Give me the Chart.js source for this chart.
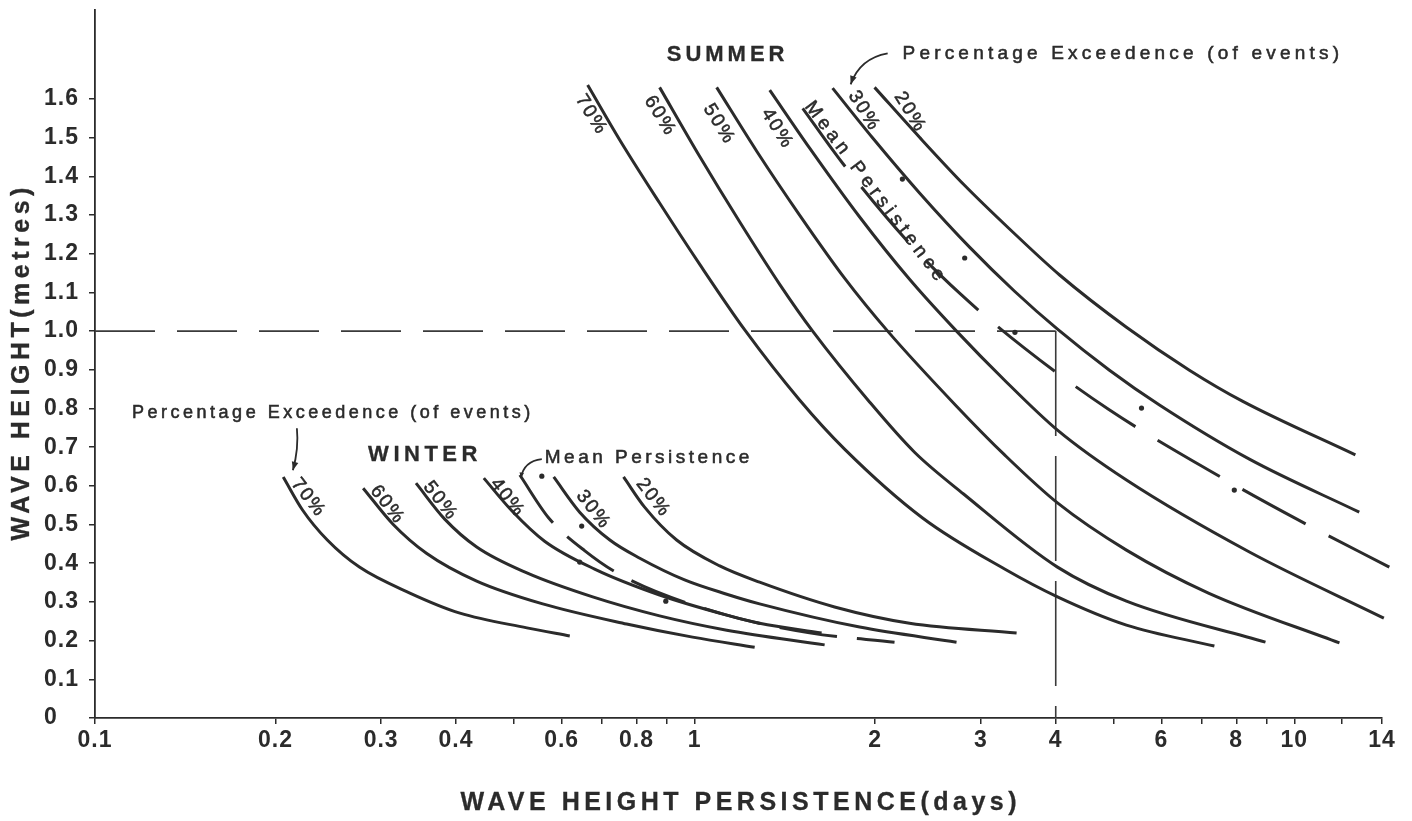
<!DOCTYPE html>
<html>
<head>
<meta charset="utf-8">
<title>Wave height persistence</title>
<script src="https://cdn.jsdelivr.net/npm/chart.js@4.4.1/dist/chart.umd.min.js"></script>
<style>
  html, body { margin: 0; padding: 0; background: #ffffff; }
  canvas { display: block; }
</style>
</head>
<body>
<canvas id="chart" width="1412" height="821"></canvas>
<script>
// ---------- axis ticks ----------
const xTickValues = [0.1, 0.2, 0.3, 0.4, 0.5, 0.6, 0.7, 0.8, 0.9, 1, 2, 3, 4, 5, 6, 7, 8, 9, 10, 12, 14];
const xTickLabels = [0.1, 0.2, 0.3, 0.4, 0.6, 0.8, 1, 2, 3, 4, 6, 8, 10, 14];
const yTickValues = [0, 0.1, 0.2, 0.3, 0.4, 0.5, 0.6, 0.7, 0.8, 0.9, 1.0, 1.1, 1.2, 1.3, 1.4, 1.5, 1.6];

// ---------- SUMMER: persistence (days) against wave height (m) ----------
const summer70Days   = [0.663, 0.750, 0.874, 1.019, 1.212, 1.496, 1.778, 2.399, 3.287, 4.027, 5.248, 7.356];
const summer70Height = [1.636, 1.494, 1.331, 1.173, 1.003, 0.822, 0.695, 0.517, 0.385, 0.313, 0.240, 0.186];
const summer60Days   = [0.874, 1.019, 1.189, 1.386, 1.573, 1.957, 2.326, 2.808, 4.027, 5.248, 8.950];
const summer60Height = [1.630, 1.452, 1.282, 1.121, 1.000, 0.817, 0.687, 0.579, 0.390, 0.302, 0.196];
const summer50Days   = [1.088, 1.269, 1.496, 1.778, 2.098, 2.733, 3.287, 4.027, 5.248, 7.190, 11.89];
const summer50Height = [1.630, 1.465, 1.300, 1.137, 1.000, 0.806, 0.680, 0.556, 0.434, 0.323, 0.194];
const summer40Days   = [1.334, 1.555, 1.884, 2.282, 2.733, 3.287, 4.027, 5.248, 8.414, 14.1];
const summer40Height = [1.623, 1.473, 1.295, 1.134, 1.000, 0.873, 0.744, 0.615, 0.429, 0.258];
const summer30Days   = [1.698, 1.981, 2.371, 2.873, 3.415, 4.027, 4.917, 5.957, 8.414, 12.83];
const summer30Height = [1.628, 1.499, 1.357, 1.217, 1.103, 1.005, 0.899, 0.809, 0.669, 0.532];
const summer20Days   = [1.995, 2.371, 2.818, 3.350, 4.060, 5.248, 6.683, 8.190, 12.64];
const summer20Height = [1.630, 1.501, 1.377, 1.264, 1.145, 1.010, 0.899, 0.819, 0.680];
const summerMeanDays   = [1.514, 1.765, 2.256, 2.765, 3.548, 4.898, 7.190, 10.15, 14.4];
const summerMeanHeight = [1.576, 1.434, 1.235, 1.098, 0.956, 0.798, 0.641, 0.512, 0.390];
const summerPointDays   = [2.22, 2.82, 3.42, 5.56, 7.94, 14.4];
const summerPointHeight = [1.393, 1.189, 0.997, 0.801, 0.589, 0.390];

// ---------- WINTER ----------
const winter70Days   = [0.206, 0.222, 0.244, 0.276, 0.335, 0.406, 0.525, 0.619];
const winter70Height = [0.623, 0.537, 0.460, 0.390, 0.323, 0.271, 0.233, 0.212];
const winter60Days   = [0.280, 0.314, 0.357, 0.433, 0.558, 0.770, 0.992, 1.259];
const winter60Height = [0.594, 0.501, 0.426, 0.354, 0.295, 0.243, 0.209, 0.183];
const winter50Days   = [0.343, 0.383, 0.433, 0.525, 0.676, 0.874, 1.131, 1.647];
const winter50Height = [0.607, 0.514, 0.442, 0.375, 0.313, 0.264, 0.227, 0.189];
const winter40Days   = [0.445, 0.496, 0.562, 0.681, 0.874, 1.131, 1.283, 1.628];
const winter40Height = [0.620, 0.535, 0.457, 0.385, 0.318, 0.266, 0.245, 0.220];
const winter30Days   = [0.582, 0.643, 0.722, 0.810, 0.962, 1.131, 1.283, 1.884, 2.733];
const winter30Height = [0.623, 0.532, 0.460, 0.413, 0.357, 0.320, 0.295, 0.235, 0.196];
const winter20Days   = [0.761, 0.825, 0.933, 1.101, 1.283, 1.711, 2.282, 3.442];
const winter20Height = [0.623, 0.545, 0.460, 0.393, 0.351, 0.287, 0.245, 0.220];
const winterMeanDays   = [0.511, 0.571, 0.656, 0.764, 1.101, 1.554, 2.154];
const winterMeanHeight = [0.628, 0.517, 0.432, 0.364, 0.271, 0.220, 0.196];
const winterPointDays   = [0.556, 0.648, 0.643, 0.895];
const winterPointHeight = [0.625, 0.496, 0.403, 0.302];

// ---------- reference: 1.0 m wave height, 4 days ----------
const refHeight = 1.0;
const refDays = 4;

// ---------- styling ----------
const INK = '#2b2b2b';
const FAMILY = '"Liberation Sans", Arial, Helvetica, sans-serif';

const zip = (xs, ys) => xs.map((x, i) => ({ x: x, y: ys[i] }));

function curve(xs, ys, dash) {
  return {
    data: zip(xs, ys),
    borderColor: INK,
    borderWidth: 3,
    borderDash: dash || [],
    pointRadius: 0,
    cubicInterpolationMode: 'monotone',
    fill: false,
    clip: false
  };
}
function dots(xs, ys) {
  return {
    data: zip(xs, ys),
    showLine: false,
    pointRadius: 2.6,
    pointBackgroundColor: INK,
    pointBorderWidth: 0,
    clip: false
  };
}
function guide(points, dash) {
  return {
    data: points,
    borderColor: '#3a3a3a',
    borderWidth: 1.6,
    borderDash: dash,
    pointRadius: 0,
    tension: 0,
    fill: false
  };
}

const datasets = [
  curve(summer70Days, summer70Height),
  curve(summer60Days, summer60Height),
  curve(summer50Days, summer50Height),
  curve(summer40Days, summer40Height),
  curve(summer30Days, summer30Height),
  curve(summer20Days, summer20Height),
  curve(summerMeanDays, summerMeanHeight, [72, 26]),
  dots(summerPointDays, summerPointHeight),
  curve(winter70Days, winter70Height),
  curve(winter60Days, winter60Height),
  curve(winter50Days, winter50Height),
  curve(winter40Days, winter40Height),
  curve(winter30Days, winter30Height),
  curve(winter20Days, winter20Height),
  curve(winterMeanDays, winterMeanHeight, [58, 20]),
  dots(winterPointDays, winterPointHeight),
  guide([{ x: 0.1, y: refHeight }, { x: refDays, y: refHeight }], [60, 22]),
  guide([{ x: refDays, y: refHeight }, { x: refDays, y: 0 }], [105, 20])
];

// ---------- text placed on the plot (anchored in data units) ----------
const notes = [
  { text: 'SUMMER', at: [1.126, 1.713], font: 'bold 22px', ls: 4, align: 'center', rot: 0 },
  { text: 'Percentage Exceedence (of events)', at: [2.221, 1.718], font: '19px', ls: 4.2, align: 'left', rot: 0 },
  { text: 'WINTER', at: [0.352, 0.680], font: 'bold 22px', ls: 4.5, align: 'center', rot: 0 },
  { text: 'Percentage Exceedence (of events)', at: [0.1153, 0.788], font: '18px', ls: 3.5, align: 'left', rot: 0 },
  { text: 'Mean Persistence', at: [0.5623, 0.672], font: '19px', ls: 3.5, align: 'left', rot: 0 },
  { text: 'Mean Persistence', at: [1.995, 1.362], font: '19px', ls: 4.5, align: 'center', rot: 53 },
  { text: '70%', at: [0.671, 1.561], font: '19px', ls: 2, align: 'center', rot: 58 },
  { text: '60%', at: [0.874, 1.558], font: '19px', ls: 2, align: 'center', rot: 58 },
  { text: '50%', at: [1.096, 1.537], font: '19px', ls: 2, align: 'center', rot: 58 },
  { text: '40%', at: [1.370, 1.525], font: '19px', ls: 2, align: 'center', rot: 58 },
  { text: '30%', at: [1.913, 1.571], font: '19px', ls: 2, align: 'center', rot: 58 },
  { text: '20%', at: [2.282, 1.568], font: '19px', ls: 2, align: 'center', rot: 58 },
  { text: '70%', at: [0.2265, 0.571], font: '19px', ls: 2, align: 'center', rot: 52 },
  { text: '60%', at: [0.3066, 0.553], font: '19px', ls: 2, align: 'center', rot: 52 },
  { text: '50%', at: [0.3758, 0.563], font: '19px', ls: 2, align: 'center', rot: 52 },
  { text: '40%', at: [0.4860, 0.571], font: '19px', ls: 2, align: 'center', rot: 52 },
  { text: '30%', at: [0.6761, 0.540], font: '19px', ls: 2, align: 'center', rot: 52 },
  { text: '20%', at: [0.8511, 0.571], font: '19px', ls: 2, align: 'center', rot: 52 }
];
// pointer arrows: start in data units, bend and tip as pixel offsets from the start
const pointers = [
  { from: [2.098, 1.718], bend: [-28, 5], tip: [-37, 31], head: 9 },
  { from: [0.2171, 0.749], bend: [2, 20], tip: [-4, 42], head: 9 },
  { from: [0.556, 0.669], bend: [-18, 2], tip: [-21, 19], head: 6 }
];

const xTitle = 'WAVE HEIGHT PERSISTENCE(days)';
const yTitle = 'WAVE HEIGHT(metres)';

function putText(ctx, str, px, py, font, ls, align, rot) {
  ctx.save();
  ctx.translate(px, py);
  ctx.rotate(rot * Math.PI / 180);
  ctx.font = font + ' ' + FAMILY;
  ctx.letterSpacing = ls + 'px';
  ctx.textAlign = align;
  ctx.textBaseline = 'middle';
  ctx.fillStyle = INK;
  ctx.strokeStyle = INK;
  ctx.lineWidth = font.indexOf('bold') === 0 ? 0.3 : 0.55;
  const dx = align === 'center' ? ls / 2 : 0;
  ctx.fillText(str, dx, 0);
  ctx.strokeText(str, dx, 0);
  ctx.restore();
}

const plotText = {
  id: 'plotText',
  beforeDraw(chart) { chart.ctx.letterSpacing = '1px'; },
  beforeDatasetsDraw(chart) { chart.ctx.letterSpacing = '0px'; },
  afterDatasetsDraw(chart) {
    const { ctx, chartArea, scales: { x, y } } = chart;
    notes.forEach(n => {
      putText(ctx, n.text, x.getPixelForValue(n.at[0]), y.getPixelForValue(n.at[1]), n.font, n.ls, n.align, n.rot);
    });
    ctx.save();
    ctx.strokeStyle = INK;
    ctx.fillStyle = INK;
    ctx.lineWidth = 1.8;
    pointers.forEach(p => {
      const sx = x.getPixelForValue(p.from[0]), sy = y.getPixelForValue(p.from[1]);
      const cx = sx + p.bend[0], cy = sy + p.bend[1];
      const ex = sx + p.tip[0], ey = sy + p.tip[1];
      ctx.beginPath();
      ctx.moveTo(sx, sy);
      ctx.quadraticCurveTo(cx, cy, ex, ey);
      ctx.stroke();
      const a = Math.atan2(ey - cy, ex - cx);
      ctx.beginPath();
      ctx.moveTo(ex, ey);
      ctx.lineTo(ex - p.head * Math.cos(a - 0.38), ey - p.head * Math.sin(a - 0.38));
      ctx.lineTo(ex - p.head * Math.cos(a + 0.38), ey - p.head * Math.sin(a + 0.38));
      ctx.closePath();
      ctx.fill();
    });
    ctx.restore();
    // axis titles
    const midX = (chartArea.left + chartArea.right) / 2;
    const midY = (chartArea.top + chartArea.bottom) / 2;
    putText(ctx, xTitle, midX, 803, 'bold 25px', 4.5, 'center', 0);
    putText(ctx, yTitle, 22, midY, 'bold 25px', 4.5, 'center', -90);
  }
};

const near = (a, b) => Math.abs(a - b) < 1e-9;

new Chart(document.getElementById('chart'), {
  type: 'line',
  data: { datasets: datasets },
  options: {
    responsive: false,
    animation: false,
    devicePixelRatio: 1,
    layout: { padding: { left: 44, top: 10, right: 30, bottom: 0 } },
    plugins: { legend: { display: false }, tooltip: { enabled: false } },
    events: [],
    scales: {
      x: {
        type: 'logarithmic',
        min: 0.1,
        max: 14,
        afterBuildTicks: s => { s.ticks = xTickValues.map(v => ({ value: v })); },
        afterFit: s => { s.height = 103; s.paddingLeft = 0; s.paddingRight = 0; },
        ticks: {
          autoSkip: false,
          maxRotation: 0,
          padding: 3,
          color: INK,
          font: { family: FAMILY, size: 23, weight: 'bold' },
          callback: v => (xTickLabels.some(t => near(t, v)) ? String(v) : '')
        },
        grid: { drawOnChartArea: false, drawTicks: true, tickLength: 6, color: INK, lineWidth: 1.5 },
        border: { display: true, color: INK, width: 1.8 }
      },
      y: {
        type: 'linear',
        min: 0,
        max: 1.83,
        afterBuildTicks: s => { s.ticks = yTickValues.map(v => ({ value: v })); },
        afterFit: s => { s.width = 51; s.paddingTop = 0; s.paddingBottom = 0; },
        ticks: {
          crossAlign: 'far',
          color: INK,
          font: { family: FAMILY, size: 23, weight: 'bold' },
          callback: v => (near(v, 0) ? '0' : v.toFixed(1))
        },
        grid: { drawOnChartArea: false, drawTicks: true, tickLength: 6, color: INK, lineWidth: 1.5 },
        border: { display: true, color: INK, width: 1.8 }
      }
    }
  },
  plugins: [plotText]
});
</script>
</body>
</html>
